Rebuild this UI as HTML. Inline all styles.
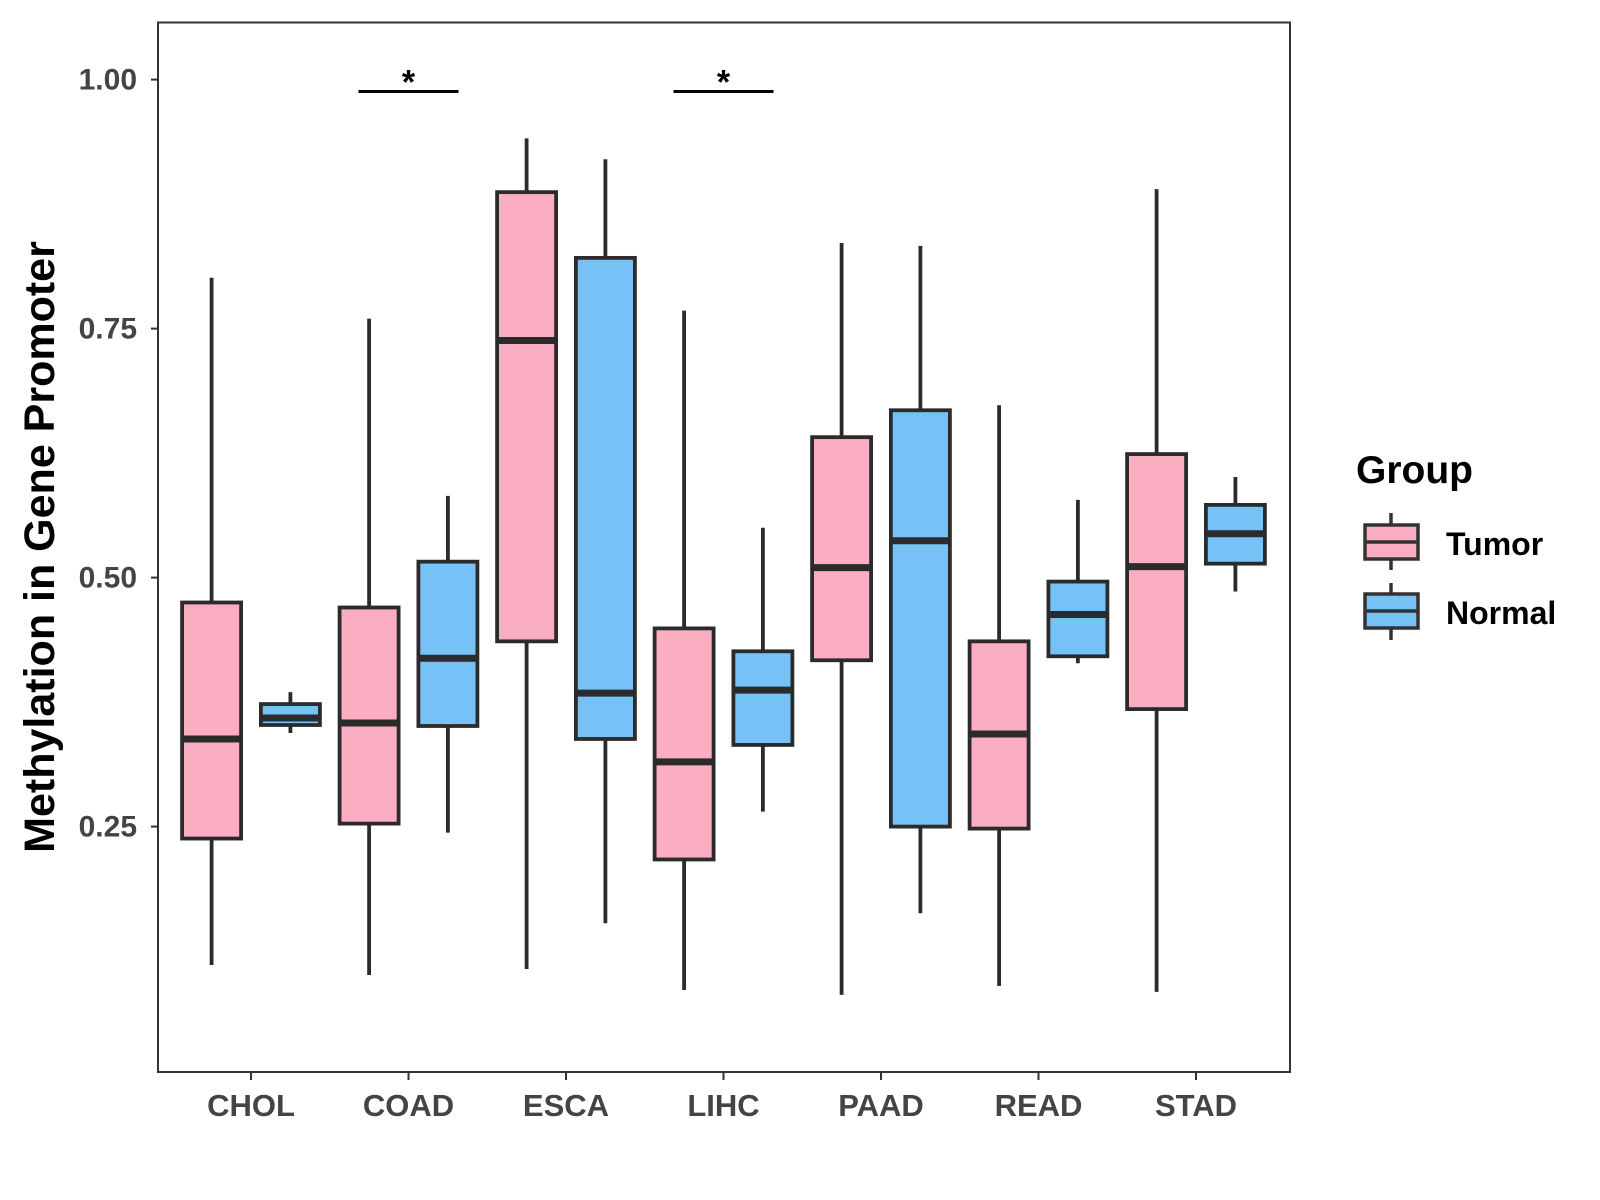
<!DOCTYPE html>
<html><head><meta charset="utf-8"><style>
html,body{margin:0;padding:0;background:#fff;}
svg{display:block;font-family:"Liberation Sans",Arial,sans-serif;font-weight:bold;}
</style></head><body>
<svg id="chart" width="1600" height="1200" viewBox="0 0 1600 1200">
<rect x="158" y="22.5" width="1132" height="1049.5" fill="#fff" stroke="#333" stroke-width="2"/>
<g id="marks"></g>
<text transform="translate(54,547) rotate(-90)" text-anchor="middle" font-size="43" fill="#000">Methylation in Gene Promoter</text>
<g>
<text x="1356" y="483" font-size="39" fill="#000">Group</text>
<g>
<line x1="1391" x2="1391" y1="513" y2="570" stroke="#333" stroke-width="3.5"/>
<rect x="1365" y="525" width="53" height="34" fill="#FBAEC1" stroke="#333" stroke-width="3.5"/>
<line x1="1365" x2="1418" y1="542" y2="542" stroke="#333" stroke-width="3.5"/>
<text x="1446" y="555" font-size="32" fill="#000">Tumor</text>
</g>
<g>
<line x1="1391" x2="1391" y1="583" y2="640" stroke="#333" stroke-width="3.5"/>
<rect x="1365" y="594" width="53" height="34" fill="#76C2F7" stroke="#333" stroke-width="3.5"/>
<line x1="1365" x2="1418" y1="611" y2="611" stroke="#333" stroke-width="3.5"/>
<text x="1446" y="624" font-size="32" fill="#000">Normal</text>
</g>
</g>
</svg>
<script>
const categories = ["CHOL","COAD","ESCA","LIHC","PAAD","READ","STAD"];
// [min, q1, median, q3, max]
const tumorStats = [
 [0.111,0.238,0.338,0.475,0.801],
 [0.101,0.253,0.354,0.470,0.760],
 [0.107,0.436,0.738,0.887,0.941],
 [0.086,0.217,0.315,0.449,0.768],
 [0.081,0.417,0.510,0.641,0.836],
 [0.090,0.248,0.343,0.436,0.673],
 [0.084,0.368,0.511,0.624,0.890]
];
const normalStats = [
 [0.344,0.352,0.359,0.373,0.385],
 [0.244,0.351,0.419,0.516,0.582],
 [0.153,0.338,0.384,0.821,0.920],
 [0.265,0.332,0.387,0.426,0.550],
 [0.163,0.250,0.537,0.668,0.833],
 [0.414,0.421,0.463,0.496,0.578],
 [0.486,0.514,0.544,0.573,0.601]
];
const yTicks = [0.25,0.50,0.75,1.00];
const yTickLabels = ["0.25","0.50","0.75","1.00"];
const sigCategories = ["COAD","LIHC"];
const sigLevel = 0.988;

const NS="http://www.w3.org/2000/svg";
const g=document.getElementById('marks');
function y(v){return 79.6+(1-v)*996;}
function x(i){return 251+i*157.5;}
function mk(t,a){const e=document.createElementNS(NS,t);for(const k in a)e.setAttribute(k,a[k]);g.appendChild(e);return e;}

yTicks.forEach((v,i)=>{
  const t=mk('line',{x1:151,x2:158,y1:y(v),y2:y(v),stroke:'#333','stroke-width':2});
  
  
  const l=mk('text',{x:137,y:y(v)+10,'text-anchor':'end','font-size':30,fill:'#444'});
  l.textContent=yTickLabels[i];
  
  
});
categories.forEach((c,i)=>{
  const t=mk('line',{x1:x(i),x2:x(i),y1:1072,y2:1080,stroke:'#333','stroke-width':2});
  
  
  const l=mk('text',{x:x(i),y:1116,'text-anchor':'middle','font-size':31,fill:'#444'});
  l.textContent=c;
  
  
});
function box(cx,s,fill,name){
  const hw=29.5;
  const w1=mk('line',{x1:cx,x2:cx,y1:y(s[0]),y2:y(s[1]),stroke:'#2b2b2b','stroke-width':3.8});
  
  
  const w2=mk('line',{x1:cx,x2:cx,y1:y(s[3]),y2:y(s[4]),stroke:'#2b2b2b','stroke-width':3.8});
  
  
  const r=mk('rect',{x:cx-hw,y:y(s[3]),width:hw*2,height:y(s[1])-y(s[3]),fill:fill,stroke:'#2b2b2b','stroke-width':3.8});
  
  
  const m=mk('line',{x1:cx-hw,x2:cx+hw,y1:y(s[2]),y2:y(s[2]),stroke:'#2b2b2b','stroke-width':7});
  
  
}
categories.forEach((c,i)=>{
  box(x(i)-39.4,tumorStats[i],'#FBAEC1',c.toLowerCase()+'-tumor');
  box(x(i)+39.4,normalStats[i],'#76C2F7',c.toLowerCase()+'-normal');
});
sigCategories.forEach(c=>{
  const i=categories.indexOf(c);
  const l=mk('line',{x1:x(i)-50,x2:x(i)+50,y1:y(sigLevel),y2:y(sigLevel),stroke:'#000','stroke-width':3});
  
  
  const s=mk('text',{x:x(i),y:y(sigLevel)+2,'text-anchor':'middle','font-size':34,fill:'#000'});
  s.textContent='*';
  
  
});
</script>
</body></html>
